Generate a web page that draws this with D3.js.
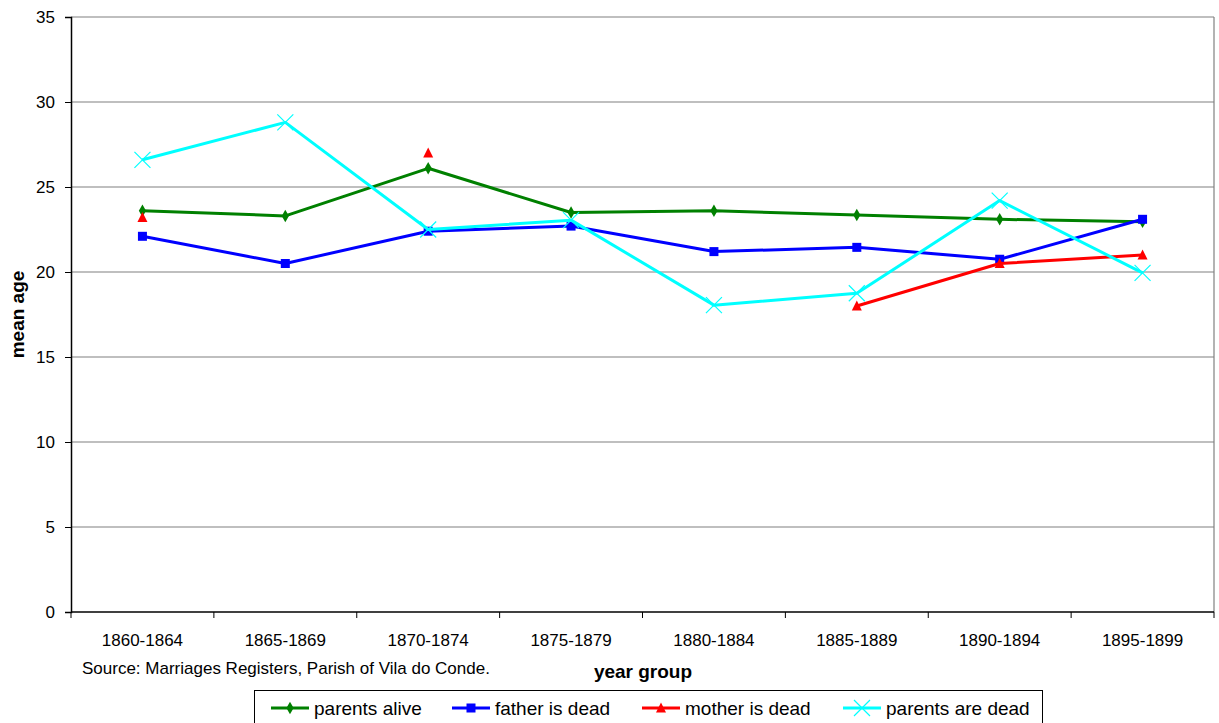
<!DOCTYPE html>
<html>
<head>
<meta charset="utf-8">
<script src="https://cdn.jsdelivr.net/npm/d3@7"></script>
<style>
  body { margin: 0; background: #fff; }
  svg text { font-family: "Liberation Sans", Arial, sans-serif; fill: #000; }
</style>
</head>
<body>
<svg id="chart" width="1219" height="723"></svg>
<script>
// Mean age at marriage by parental status, Vila do Conde, 1860-1899
const categories = ["1860-1864", "1865-1869", "1870-1874", "1875-1879", "1880-1884", "1885-1889", "1890-1894", "1895-1899"];
const parentsAlive   = [23.6, 23.3, 26.1, 23.5, 23.6, 23.35, 23.1, 22.95];
const fatherIsDead   = [22.1, 20.5, 22.4, 22.7, 21.2, 21.45, 20.75, 23.1];
const motherIsDead   = [23.2, null, 27.0, null, null, 18.0, 20.5, 21.0];
const parentsAreDead = [26.6, 28.8, 22.5, 23.05, 18.05, 18.75, 24.2, 19.95];
const yTicks = [0, 5, 10, 15, 20, 25, 30, 35];

const series = [
  { name: "parents alive",    values: parentsAlive,   color: "#008000", marker: "diamond" },
  { name: "father is dead",   values: fatherIsDead,   color: "#0000ff", marker: "square" },
  { name: "mother is dead",   values: motherIsDead,   color: "#ff0000", marker: "triangle" },
  { name: "parents are dead", values: parentsAreDead, color: "#00ffff", marker: "cross" }
];

const svg = d3.select("#chart");
const margin = { left: 71, top: 17, right: 1214, bottom: 612 };

const x = d3.scaleBand().domain(categories).range([margin.left, margin.right]);
const y = d3.scaleLinear().domain([0, 35]).range([margin.bottom, margin.top]);

// Horizontal gridlines
svg.append("g").selectAll("line").data(yTicks.filter(d => d > 0)).join("line")
  .attr("x1", margin.left).attr("x2", margin.right)
  .attr("y1", d => y(d)).attr("y2", d => y(d))
  .attr("stroke", "#808080").attr("stroke-width", 1.2);

// Right border of plot area
svg.append("line")
  .attr("x1", margin.right).attr("x2", margin.right)
  .attr("y1", margin.top).attr("y2", margin.bottom)
  .attr("stroke", "#808080").attr("stroke-width", 1.2);

// Y axis
const yAxis = svg.append("g").attr("transform", `translate(${margin.left},0)`)
  .call(d3.axisLeft(y).tickValues(yTicks).tickSize(6).tickPadding(10));
yAxis.select(".domain").attr("stroke", "#000").attr("stroke-width", 1.5);
yAxis.selectAll(".tick line").attr("stroke", "#000");
yAxis.selectAll(".tick text").attr("font-size", 17).style("font-family", "Liberation Sans, Arial, sans-serif");

// X axis: ticks at category boundaries, labels centred in each band
const xg = svg.append("g");
xg.append("line")
  .attr("x1", margin.left).attr("x2", margin.right)
  .attr("y1", margin.bottom).attr("y2", margin.bottom)
  .attr("stroke", "#000").attr("stroke-width", 1.5);
const boundaries = categories.map(c => x(c)).concat([x(categories[categories.length - 1]) + x.bandwidth()]);
xg.selectAll("line.tk").data(boundaries).join("line").attr("class", "tk")
  .attr("x1", d => d).attr("x2", d => d)
  .attr("y1", margin.bottom).attr("y2", margin.bottom + 6)
  .attr("stroke", "#000");
xg.selectAll("text").data(categories).join("text")
  .attr("x", d => x(d) + x.bandwidth() / 2)
  .attr("y", 646)
  .attr("text-anchor", "middle")
  .attr("font-size", 17)
  .text(d => d);

// Axis titles
svg.append("text")
  .attr("transform", `translate(24,${(margin.top + margin.bottom) / 2}) rotate(-90)`)
  .attr("text-anchor", "middle")
  .attr("font-size", 19).attr("font-weight", "bold")
  .text("mean age");
svg.append("text")
  .attr("x", 643).attr("y", 678)
  .attr("text-anchor", "middle")
  .attr("font-size", 19).attr("font-weight", "bold")
  .text("year group");
svg.append("text")
  .attr("x", 82).attr("y", 674)
  .attr("font-size", 17)
  .text("Source: Marriages Registers, Parish of Vila do Conde.");

// Marker drawing
function drawMarker(g, type, color, cx, cy) {
  if (type === "diamond") {
    g.append("path").attr("d", d3.symbol(d3.symbolDiamond, 45)())
      .attr("transform", `translate(${cx},${cy})`).attr("fill", color);
  } else if (type === "square") {
    g.append("rect").attr("x", cx - 4.5).attr("y", cy - 4.5)
      .attr("width", 9).attr("height", 9).attr("fill", color);
  } else if (type === "triangle") {
    g.append("path").attr("d", `M${cx},${cy - 5.5}L${cx + 5},${cy + 4.5}L${cx - 5},${cy + 4.5}Z`)
      .attr("fill", color);
  } else if (type === "cross") {
    const r = 8;
    g.append("path")
      .attr("d", `M${cx - r},${cy - r}L${cx + r},${cy + r}M${cx - r},${cy + r}L${cx + r},${cy - r}`)
      .attr("stroke", color).attr("stroke-width", 1.2).attr("fill", "none");
  }
}

const cx = c => x(c) + x.bandwidth() / 2;
const line = d3.line()
  .defined(d => d.v !== null)
  .x(d => cx(d.c)).y(d => y(d.v));

series.forEach(s => {
  const g = svg.append("g");
  const pts = categories.map((c, i) => ({ c, v: s.values[i] }));
  g.append("path").datum(pts)
    .attr("d", line)
    .attr("fill", "none").attr("stroke", s.color).attr("stroke-width", 3)
    .attr("stroke-linejoin", "round");
  pts.filter(p => p.v !== null).forEach(p => drawMarker(g, s.marker, s.color, cx(p.c), y(p.v)));
});

// Legend
const lg = svg.append("g");
lg.append("rect").attr("x", 254.5).attr("y", 690.5).attr("width", 788).attr("height", 34)
  .attr("fill", "#fff").attr("stroke", "#000").attr("stroke-width", 1);
const legendX = [271, 452, 642, 843];
series.forEach((s, i) => {
  const lx = legendX[i], ly = 708;
  lg.append("line").attr("x1", lx).attr("x2", lx + 38).attr("y1", ly).attr("y2", ly)
    .attr("stroke", s.color).attr("stroke-width", 3);
  drawMarker(lg, s.marker, s.color, lx + 19, ly);
  lg.append("text").attr("x", lx + 43).attr("y", ly + 7)
    .attr("font-size", 19).text(s.name);
});
</script>
</body>
</html>
